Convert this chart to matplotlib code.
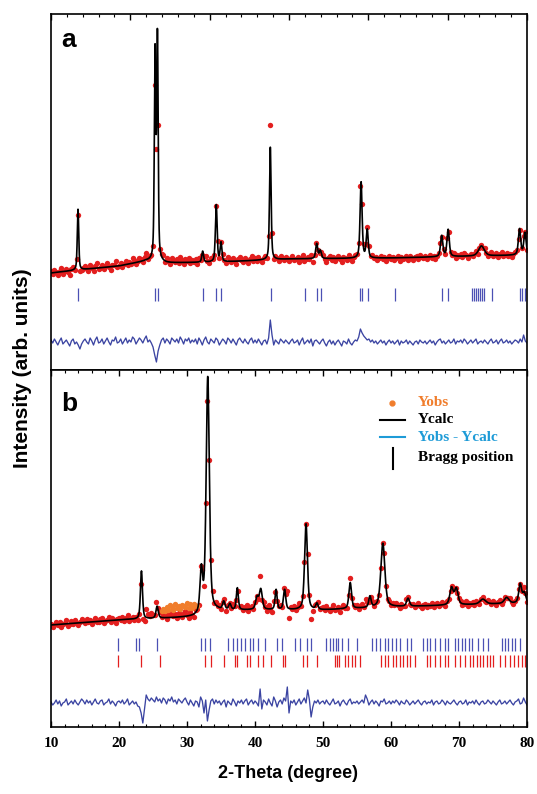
import numpy as np
import matplotlib.pyplot as plt
from matplotlib.ticker import MultipleLocator, FixedLocator

plt.rcParams['font.family'] = 'Liberation Sans'

# observation grid (2-theta, step 0.25 deg)
two_theta = np.linspace(10, 80, 281)

# ---- panel a: Rietveld peaks (position, height, fwhm) and background knots
pos_a = [13.97, 25.30, 25.65, 32.3, 34.3, 35.0, 42.25, 49.07, 49.6, 55.6, 56.5,
         67.45, 68.4, 73.3, 78.9, 79.7]
amp_a = [61, 205, 222, 11, 57, 19, 113, 15, 8, 76, 28, 21, 27, 10, 26, 22]
fwhm_a = [0.25, 0.25, 0.25, 0.3, 0.3, 0.3, 0.28, 0.35, 0.35, 0.35, 0.35,
          0.4, 0.4, 1.0, 0.4, 0.4]
bg_a_x = [10, 14, 20, 24, 27, 35, 45, 60, 80]
bg_a_y = [97, 100, 104, 109, 107, 108, 111, 112, 115]

# Yobs - Ycalc, panel a
diff_a = [2, -1, 3, 0, -3, 1, 4, -2, 0, 2, -1, -4, 1, 3, -2, 0, -3, -7, -2, 1,
          3, 0, -2, 4, 1, -3, 2, 5, -1, 0, 3, -2, 1, 4, 0, -3, 2, 1, 5, -1,
          0, 3, -2, 1, 4, -1, 2, 0, 5, 3, -2, 1, 4, 2, -1, 3, 6, 0, 2, -1,
          -5, -13, -20, -9, -3, 2, 4, -1, 3, 1, -2, 4, 2, 0, 3, -1, 5, 2, -2, 3,
          1, 4, -1, 2, 0, 3, -2, 4, 1, -3, 2, 5, 0, -2, 3, 1, -1, 4, 2, -3,
          0, 3, 1, -2, 4, 2, -1, 3, 0, -3, 2, 4, 1, -1, 3, 0, -2, 2, 4, -1,
          2, -1, 3, 0, -3, 1, 2, -2, 4, 22, 7, -3, 2, 0, -2, 3, 1, -1, 2, 0,
          -2, 1, 3, -1, 0, 2, -3, 1, 4, -2, 0, 2, -1, 3, -4, 1, 2, 0, -2, 1,
          3, -1, -4, 0, 2, -2, 1, -3, 0, 2, -1, -4, 1, 0, -2, 3, -1, -3, 0, 2,
          1, 5, 13, 9, 6, 4, 2, 3, 0, 2, -1, 1, -2, 0, 2, -1, 1, -3, 0, 2,
          -1, 1, -2, 0, 2, -3, 1, -1, 0, 2, -2, 1, -1, -3, 0, 1, -2, 2, 0, -1,
          1, -2, 0, 2, -1, 1, -3, 0, 2, 3, -1, 1, -2, 0, 2, -1, 0, 3, -2, 1,
          0, 2, -1, 3, 1, -2, 0, 2, -1, 1, 3, -2, 0, 1, -1, 2, 0, -2, 1, 3,
          -1, 0, 2, -2, 1, 3, -1, 0, 2, -1, 1, -2, 0, 2, 1, -1, 3, 0, 7, 1,
          -1]

bragg_a = [13.97, 25.34, 25.69, 32.4, 34.26, 35.0, 42.35, 47.4, 49.07, 49.66,
           55.44, 55.78, 56.66, 60.6, 67.45, 68.43, 71.86, 72.2, 72.5, 72.8,
           73.1, 73.4, 73.7, 74.8, 78.97, 79.3, 79.66, 79.95]

# ---- panel b
pos_b = [23.3, 25.6, 32.1, 33.05, 35.4, 36.3, 37.4, 40.3, 40.85, 43.1, 44.35,
         47.5, 49.1, 54.0, 56.9, 58.8, 62.5, 68.9, 69.6, 73.5, 77.0, 79.0, 79.6]
amp_b = [48, 12, 42, 236, 8, 6, 22, 12, 20, 20, 20, 86, 6, 26, 11, 64, 8,
         17, 16, 5, 6, 19, 10]
fwhm_b = [0.35, 0.4, 0.45, 0.55, 0.4, 0.4, 0.35, 0.5, 0.5, 0.35, 0.4, 0.5,
          0.4, 0.45, 0.4, 0.7, 0.5, 0.6, 0.6, 1.0, 0.8, 0.5, 0.5]
bg_b_x = [10, 20, 31, 34.5, 40, 50, 60, 70, 80]
bg_b_y = [102, 107, 110, 116, 117, 117, 120, 122, 124]

diff_b = [1, -2, 0, 3, -1, 2, -3, 0, 1, 4, -2, 0, 2, -1, 3, 0, -2, 1, 4, 2,
          -1, 3, 0, 2, -2, 1, 4, 0, -1, 2, 3, -2, 0, 1, 4, -1, 2, 0, -3, 1,
          2, 0, 3, -1, 1, 4, -2, 0, 2, -1, 1, -3, -4, -10, -20, -6, 8, 4, 2, 5,
          3, 1, 6, 2, 4, 0, 5, 3, -1, 4, 2, 6, 1, 3, -1, 4, 2, 0, 3, 5,
          1, -2, 3, 0, -3, 2, 1, -4, 6, 2, -10, 3, -18, -7, 2, 4, -1, 3, 0, 2,
          -2, 1, 3, -4, 2, 0, -2, 4, 1, -3, 2, 0, 3, -1, 2, 4, -2, 1, 3, -1,
          2, 0, -3, 14, -6, 3, 1, -2, 4, 0, -3, 6, 2, -4, 1, 3, -1, 5, 2, 16,
          -10, 2, 0, 3, -2, 1, 4, -1, 2, 5, 0, 13, 3, -14, -4, 2, 0, 3, -1, 1,
          2, -1, 3, 0, -2, 1, 4, -1, 0, 2, -3, 1, 3, 0, -2, 2, 4, -1, 1, 0,
          2, -1, 1, 3, 0, 8, 4, -2, 1, 3, -1, 2, 0, -3, 2, 1, 4, -1, 0, 2,
          -1, 2, 0, 3, 1, -2, 2, 0, -1, 3, 1, -2, 0, 2, -1, 1, 3, 0, -2, 1,
          2, -1, 1, 0, 3, -2, 1, 2, -1, 0, 3, 1, -2, 2, 0, -1, 1, 3, 0, -2,
          1, 2, -1, 0, 3, -2, 1, 0, 2, -1, 3, 0, -2, 1, 2, -1, 0, 3, 1, -1,
          2, 0, -2, 1, 3, -1, 0, 2, -1, 1, 3, 0, -2, 1, 2, 4, -1, 0, 5, 1,
          -2]

# excluded region (orange Yobs), 26.25 - 31.5 deg, excess over Ycalc
orange_x = np.linspace(26.25, 31.5, 22)
orange_dy = [6, 9, 7, 11, 8, 12, 10, 7, 13, 9, 11, 8, 12, 10, 9, 13, 8, 11, 7, 10, 6, 4]

bragg_b1 = [19.9, 22.5, 23.0, 25.6, 32.06, 32.65, 33.4, 36.1, 36.7, 37.3, 37.9,
            38.5, 39.2, 39.75, 40.5, 41.4, 43.2, 43.9, 45.9, 46.6, 47.6, 48.3,
            50.4, 51.0, 51.5, 51.9, 52.25, 52.75, 53.7, 55.0, 57.2, 57.8, 58.4,
            59.1, 59.6, 60.1, 60.8, 61.3, 62.3, 63.0, 64.75, 65.25, 65.7, 66.5,
            67.2, 67.9, 68.4, 69.4, 69.9, 70.4, 70.9, 71.4, 71.9, 72.8, 73.6,
            74.3, 76.3, 76.8, 77.25, 77.75, 78.2, 78.9]
bragg_b2 = [19.9, 23.2, 26.1, 32.65, 33.6, 35.4, 37.06, 37.4, 38.8, 39.3, 40.5,
            41.2, 42.3, 44.1, 44.4, 47.1, 47.6, 49.07, 51.76, 52.1, 52.4, 53.2,
            53.7, 54.2, 54.7, 55.4, 58.6, 59.1, 59.6, 60.3, 60.8, 61.3, 61.8,
            62.3, 62.8, 63.5, 65.25, 65.7, 66.5, 67.2, 67.9, 68.4, 69.4, 70.15,
            70.9, 71.6, 72.1, 72.6, 73.1, 73.6, 74.1, 74.6, 75.0, 76.0, 76.8,
            77.5, 78.1, 78.7, 79.2, 79.7]


def profile(x, pos, amp, fwhm, bgx, bgy):
    y = np.interp(x, bgx, bgy).astype(float)
    for p, a, w in zip(pos, amp, fwhm):
        d = (x - p) / w
        lor = 1.0 / (1.0 + 4.0 * d ** 2)
        gau = np.exp(-4.0 * np.log(2) * d ** 2)
        y += a * (0.5 * lor + 0.5 * gau)
    return y


red = '#e31f1f'
navy = '#3b44a2'
tick_blue = '#4b50b4'
orange = '#f07d2c'
cyan = '#1e9bd7'

x_fine = np.linspace(10, 80, 3501)

fig = plt.figure(figsize=(5.37, 7.94), dpi=100)
ax_a = fig.add_axes([0.0950, 0.5340, 0.8864, 0.4484])
ax_b = fig.add_axes([0.0950, 0.0844, 0.8864, 0.4496])

# panel a
calc_a = profile(x_fine, pos_a, amp_a, fwhm_a, bg_a_x, bg_a_y)
obs_a = profile(two_theta, pos_a, amp_a, fwhm_a, bg_a_x, bg_a_y) + np.array(diff_a)
ax_a.scatter(two_theta, obs_a, s=15, color=red, lw=0, zorder=2)
ax_a.plot(x_fine, calc_a, color='black', lw=1.2, zorder=3)
ax_a.vlines(bragg_a, 69, 82, color=tick_blue, lw=0.9)
ax_a.plot(two_theta, 28 + np.array(diff_a), color=navy, lw=0.95)
ax_a.set_xlim(10, 80)
ax_a.set_ylim(0, 356)

# panel b
calc_b = profile(x_fine, pos_b, amp_b, fwhm_b, bg_b_x, bg_b_y)
obs_b = profile(two_theta, pos_b, amp_b, fwhm_b, bg_b_x, bg_b_y) + np.array(diff_b)
obs_or = profile(orange_x, pos_b, amp_b, fwhm_b, bg_b_x, bg_b_y) + np.array(orange_dy)
ax_b.scatter(two_theta, obs_b, s=15, color=red, lw=0, zorder=2)
ax_b.scatter(orange_x, obs_or, s=15, color=orange, lw=0, zorder=2)
ax_b.plot(x_fine, calc_b, color='black', lw=1.2, zorder=3)
ax_b.vlines(bragg_b1, 76, 89, color=tick_blue, lw=0.9)
ax_b.vlines(bragg_b2, 60, 72, color=red, lw=0.9)
ax_b.plot(two_theta, 24 + np.array(diff_b), color=navy, lw=0.95)
ax_b.set_xlim(10, 80)
ax_b.set_ylim(0, 357)

for ax in (ax_a, ax_b):
    for s in ax.spines.values():
        s.set_linewidth(1.2)
    ax.set_yticks([])

# panel a: ticks only on top edge
ax_a.xaxis.set_major_locator(FixedLocator([10 + k * 70 / 6 for k in range(7)]))
ax_a.xaxis.set_minor_locator(FixedLocator([10 + k * 70 / 30 for k in range(31)]))
ax_a.tick_params(axis='x', which='both', direction='in', top=True, bottom=False,
                 labelbottom=False, labeltop=False)
ax_a.tick_params(axis='x', which='major', length=4.5, width=1.0)
ax_a.tick_params(axis='x', which='minor', length=2.5, width=0.8)

ax_b.xaxis.set_major_locator(MultipleLocator(10))
ax_b.xaxis.set_minor_locator(MultipleLocator(2))
ax_b.tick_params(axis='x', which='both', direction='in', top=True, bottom=True)
ax_b.tick_params(axis='x', which='major', length=4.5, width=1.0, pad=7)
ax_b.tick_params(axis='x', which='minor', length=2.5, width=0.8)
for lab in ax_b.get_xticklabels():
    lab.set_fontfamily('Liberation Serif')
    lab.set_fontweight('bold')
    lab.set_fontsize(11)

ax_a.text(0.021, 0.907, 'a', transform=ax_a.transAxes, fontsize=19,
          fontweight='bold', va='baseline')
ax_b.text(0.021, 0.885, 'b', transform=ax_b.transAxes, fontsize=19,
          fontweight='bold', va='baseline')

# legend (panel b)
lt = ax_b.transAxes
serif = dict(fontfamily='Liberation Serif', fontweight='bold', fontsize=11,
             va='center', transform=lt)
ax_b.plot([0.716], [0.908], 'o', ms=3.5, color=orange, transform=lt)
ax_b.text(0.771, 0.908, 'Yobs', color=orange, **serif)
ax_b.plot([0.691, 0.744], [0.860, 0.860], color='black', lw=1.5, transform=lt)
ax_b.text(0.771, 0.860, 'Ycalc', color='black', **serif)
ax_b.plot([0.691, 0.744], [0.812, 0.812], color=cyan, lw=1.5, transform=lt)
ax_b.text(0.771, 0.812, 'Yobs - Ycalc', color=cyan, **serif)
ax_b.plot([0.718, 0.718], [0.723, 0.782], color='black', lw=1.5, transform=lt)
ax_b.text(0.771, 0.754, 'Bragg position', color='black', **serif)

fig.text(0.536, 0.0264, '2-Theta (degree)', ha='center', va='center',
         fontsize=13, fontweight='bold')
fig.text(0.041, 0.5365, 'Intensity (arb. units)', ha='center', va='center',
         rotation=90, fontsize=15, fontweight='bold')

fig.savefig('out.png', dpi=100)
